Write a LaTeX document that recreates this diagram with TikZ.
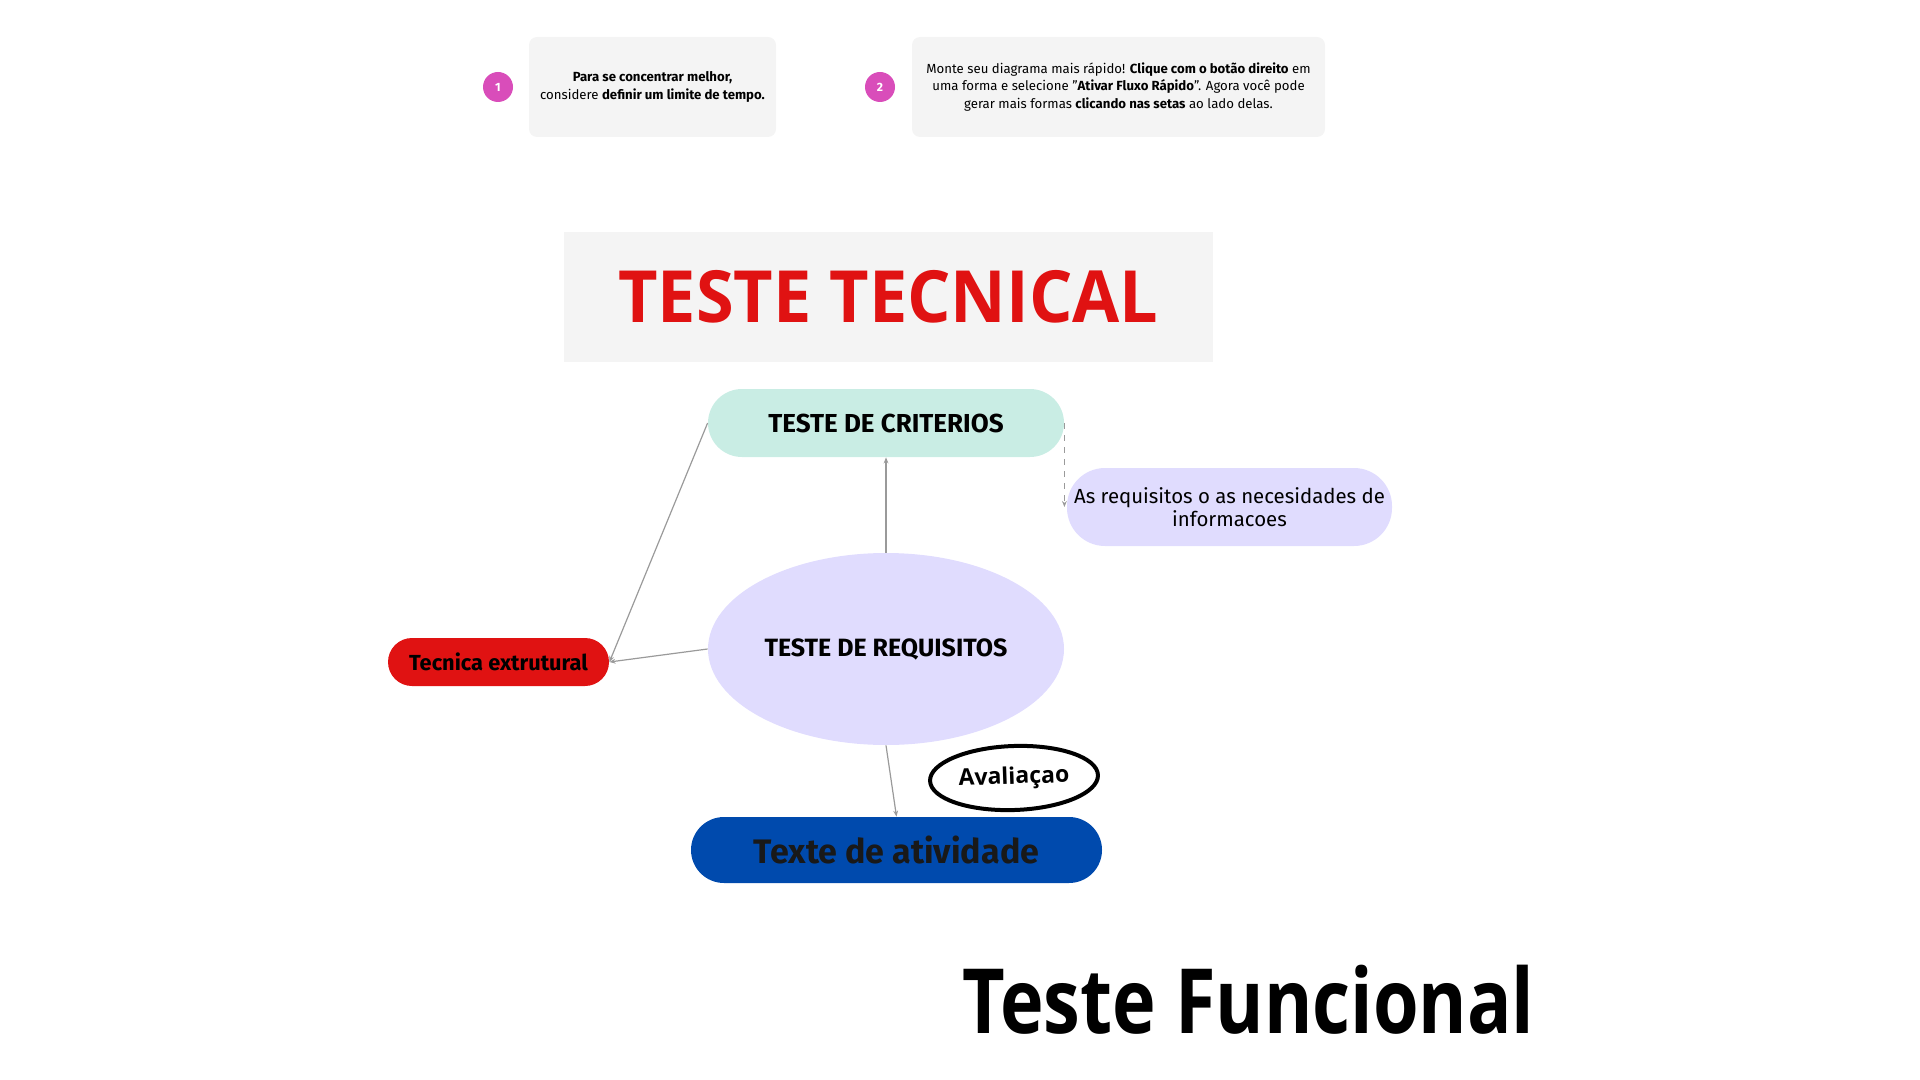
\documentclass[tikz,border=0pt]{standalone}
\usepackage{fontspec}
\setmainfont{Fira Sans}
\newfontfamily\opensans{Open Sans}
\newfontfamily\opensanstitle[FakeStretch=0.95]{Open Sans}
\newfontfamily\opensansnarrow[FakeStretch=0.82]{Open Sans}
\usetikzlibrary{shapes.geometric,arrows.meta}
\definecolor{cardgray}{HTML}{F4F4F4}
\definecolor{dotpink}{HTML}{D94DBA}
\definecolor{mint}{HTML}{C9EDE4}
\definecolor{lavender}{HTML}{E0DCFE}
\definecolor{tecred}{HTML}{E01212}
\definecolor{actblue}{HTML}{004AAD}
\definecolor{linegray}{HTML}{9A9A9A}
\begin{document}
\begin{tikzpicture}[x=0.5pt,y=-0.5pt,
    card/.style={fill=cardgray,rounded corners=4pt,align=center,inner sep=0pt,
      font=\fontsize{6.6}{8.8}\selectfont},
    dot/.style={circle,fill=dotpink,text=white,minimum size=15pt,inner sep=0pt,
      font=\fontsize{6}{7}\selectfont\bfseries},
    pill/.style={rounded corners=#1,inner sep=0pt,align=center},
    conn/.style={draw=linegray,line width=0.6pt,-{Stealth[length=3pt,width=2.4pt]}}]
  \useasboundingbox (0,0) rectangle (1920,1080);
  % tip cards
  \node[dot] (d1) at (498,87) {1};
  \node[card,minimum width=123.5pt,minimum height=50pt] (c1) at (652.5,87)
    {\textbf{Para se concentrar melhor,}\\considere \textbf{definir um limite de tempo.}};
  \node[dot] (d2) at (880,87) {2};
  \node[card,minimum width=206.5pt,minimum height=50pt] (c2) at (1118.5,87)
    {Monte seu diagrama mais rápido! \textbf{Clique com o botão direito} em\\
     uma forma e selecione "\textbf{Ativar Fluxo Rápido}". Agora você pode\\
     gerar mais formas \textbf{clicando nas setas} ao lado delas.};
  % title
  \node[fill=cardgray,minimum width=324.5pt,minimum height=65pt,inner sep=0pt,
    text=tecred,font=\opensanstitle\fontsize{36}{40}\selectfont\bfseries] (title) at (888.5,297)
    {TESTE TECNICAL};
  % map
  \node[pill=17pt,fill=mint,minimum width=178pt,minimum height=34pt,
    font=\fontsize{13}{15}\selectfont\bfseries] (crit) at (886,423) {TESTE DE CRITERIOS};
  \node[pill=19pt,fill=lavender,minimum width=162.5pt,minimum height=39pt,
    font=\fontsize{10.2}{11.5}\selectfont] (info) at (1229.5,507)
    {As requisitos o as necesidades de\\informacoes};
  \node[ellipse,fill=lavender,minimum width=178pt,minimum height=96pt,inner sep=0pt,
    font=\fontsize{12.5}{14}\selectfont\bfseries] (req) at (886,649) {TESTE DE REQUISITOS};
  \node[pill=12pt,fill=tecred,minimum width=110.5pt,minimum height=24pt,
    font=\fontsize{10.9}{12}\selectfont\bfseries] (tec) at (498.5,662) {Tecnica extrutural};
  \node[pill=16.5pt,fill=actblue,minimum width=205.5pt,minimum height=33pt,
    text=black!90,font=\fontsize{17}{19}\selectfont\bfseries] (act) at (896.5,850)
    {Texte de atividade};
  \node[ellipse,draw=black,line width=2pt,minimum width=84pt,minimum height=32pt,inner sep=0pt,
    font=\opensans\fontsize{11.5}{13}\selectfont\bfseries,rotate=2] (eval) at (1014,778)
    {Avaliaçao};
  \node[anchor=base,font=\opensansnarrow\fontsize{45}{50}\selectfont\bfseries] (func) at (1248.5,1033)
    {Teste Funcional};
  \draw[conn] (req.north) -- (crit.south);
  \draw[conn] (req.west) -- (tec.east);
  \draw[conn] (crit.west) -- (tec.east);
  \draw[conn,dashed] (crit.east) -- (crit.east |- info.west);
  \draw[conn] (req.south) -- (act.north);
\end{tikzpicture}
\end{document}
